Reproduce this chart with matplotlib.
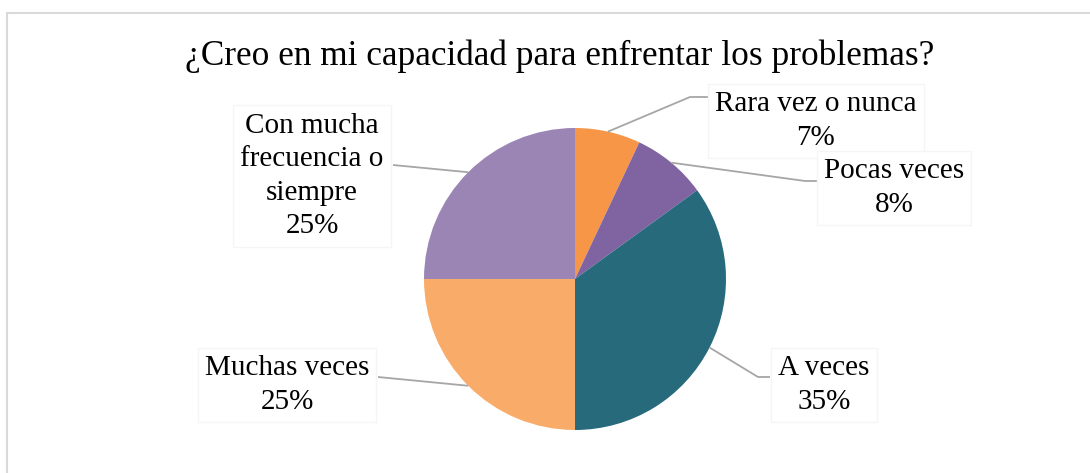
import numpy as np
import matplotlib
matplotlib.use("Agg")
import matplotlib.pyplot as plt
from matplotlib.patches import Rectangle

plt.rcParams['font.family'] = ['Liberation Serif', 'DejaVu Serif']

title = "¿Creo en mi capacidad para enfrentar los problemas?"
categories = ["Rara vez o nunca", "Pocas veces", "A veces",
              "Muchas veces", "Con mucha\nfrecuencia o\nsiempre"]
percents = [7, 8, 35, 25, 25]
colors = ["#F79646", "#8064A2", "#276A7C", "#F9AC6A", "#9A85B5"]

W, H = 1090, 473
fig = plt.figure(figsize=(W / 100, H / 100), dpi=100)
ax = fig.add_axes([0, 0, 1, 1])

# chart frame (right and bottom edges fall outside the canvas)
fig.patches.append(Rectangle((7 / W, -0.1), 1.2, (H - 13) / H + 0.1,
                             transform=fig.transFigure, fill=False,
                             edgecolor='#D9D9D9', linewidth=1.5))

cx, cy, r = 575, H - 279, 151
wedges, _ = ax.pie(percents, colors=colors, startangle=90, counterclock=False,
                   center=(cx, cy), radius=r, frame=True,
                   wedgeprops=dict(linewidth=0))
ax.set_xlim(0, W)
ax.set_ylim(0, H)
ax.set_aspect('equal')
ax.axis('off')

ax.text(560, H - 56, title, ha='center', va='center', fontsize=25.4)

# label centre, leader elbow and leader end (pixels from top-left)
label_pos = [(816, 121), (894, 188), (824, 385), (287, 385), (312, 176)]
leaders = [[(690, 97), (712, 97)],
           [(805, 181), (820, 181)],
           [(758, 377), (770, 377)],
           [(378, 377)],
           [(393, 165)]]

for i, (w, p) in enumerate(zip(wedges, percents)):
    mid = np.deg2rad((w.theta1 + w.theta2) / 2)
    sx, sy = cx + r * np.cos(mid), cy + r * np.sin(mid)
    xs = [sx] + [q[0] for q in leaders[i]]
    ys = [sy] + [H - q[1] for q in leaders[i]]
    ax.plot(xs, ys, color='#A6A6A6', linewidth=1.3, solid_capstyle='butt')
    tx, ty = label_pos[i]
    ax.text(tx, H - ty, f"{categories[i]}\n{p}%", ha='center', va='center',
            fontsize=21, linespacing=1.38,
            bbox=dict(boxstyle='square,pad=0.25', facecolor='white',
                      edgecolor='#F5F5F5', linewidth=1))

fig.savefig("out.png", dpi=100)
